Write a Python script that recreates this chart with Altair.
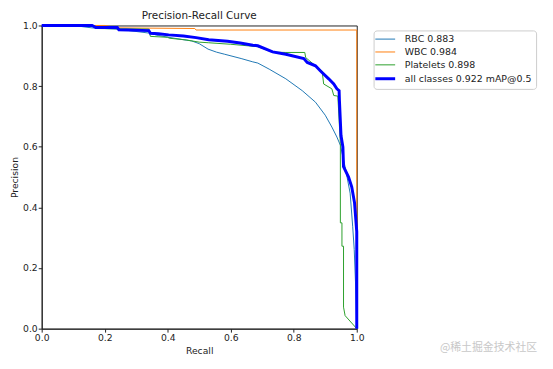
import altair as alt
import pandas as pd

series_names = ["RBC 0.883", "WBC 0.984", "Platelets 0.898", "all classes 0.922 mAP@0.5"]
series_colors = ["#1f77b4", "#ff7f0e", "#2ca02c", "#0000ff"]
series_widths = [1, 1, 1, 3]

rbc_recall = [0, 0.10, 0.16, 0.24, 0.34, 0.37, 0.42, 0.476, 0.50, 0.528, 0.555, 0.581, 0.633, 0.67, 0.686, 0.722, 0.775, 0.827, 0.869, 0.90, 0.921, 0.937, 0.948, 0.963, 0.979, 0.987, 0.992, 0.996, 1.0]
rbc_prec = [1.0, 1.0, 0.992, 0.988, 0.975, 0.967, 0.958, 0.949, 0.94, 0.922, 0.912, 0.905, 0.891, 0.88, 0.876, 0.856, 0.824, 0.785, 0.747, 0.704, 0.665, 0.632, 0.605, 0.534, 0.447, 0.338, 0.261, 0.154, 0.0]

wbc_recall = [0, 0.2, 0.24, 0.486, 0.49, 1.0, 1.0]
wbc_prec = [1.0, 1.0, 0.992, 0.99, 0.985, 0.985, 0.0]

plt_recall = [0, 0.16, 0.172, 0.34, 0.345, 0.40, 0.405, 0.46, 0.50, 0.53, 0.60, 0.686, 0.733, 0.775, 0.835, 0.838, 0.869, 0.89, 0.895, 0.921, 0.927, 0.94, 0.948, 0.948, 0.953, 0.953, 0.958, 0.958, 0.963, 1.0]
plt_prec = [1.0, 1.0, 0.99, 0.988, 0.964, 0.961, 0.958, 0.952, 0.945, 0.943, 0.938, 0.93, 0.912, 0.911, 0.911, 0.894, 0.867, 0.85, 0.807, 0.791, 0.769, 0.767, 0.61, 0.349, 0.349, 0.272, 0.272, 0.071, 0.043, 0.0]

all_recall = [0, 0.16, 0.172, 0.24, 0.245, 0.34, 0.345, 0.371, 0.403, 0.45, 0.49, 0.53, 0.59, 0.63, 0.67, 0.686, 0.733, 0.775, 0.832, 0.843, 0.869, 0.885, 0.911, 0.927, 0.937, 0.944, 0.945, 0.95, 0.956, 0.958, 0.974, 0.984, 0.993, 0.997, 1.0, 1.0]
all_prec = [1.0, 1.0, 0.993, 0.993, 0.986, 0.983, 0.974, 0.973, 0.969, 0.965, 0.96, 0.953, 0.948, 0.942, 0.935, 0.933, 0.913, 0.905, 0.891, 0.878, 0.867, 0.85, 0.824, 0.807, 0.791, 0.785, 0.752, 0.637, 0.599, 0.534, 0.50, 0.468, 0.415, 0.36, 0.32, 0.0]

tick_values = [0.0, 0.2, 0.4, 0.6, 0.8, 1.0]
watermark = "@稀土掘金技术社区"

rows = []
for name, lw, rs, ps in zip(series_names, series_widths,
                            [rbc_recall, wbc_recall, plt_recall, all_recall],
                            [rbc_prec, wbc_prec, plt_prec, all_prec]):
    for i, (r, p) in enumerate(zip(rs, ps)):
        rows.append({"series": name, "lw": lw, "i": i, "recall": r, "precision": p})
df = pd.DataFrame(rows)

thick_expr = "datum.value == '" + series_names[3] + "' ? 3 : 1"

lines = alt.Chart(df).mark_line(clip=False).encode(
    x=alt.X("recall:Q", scale=alt.Scale(domain=[0, 1], nice=False),
            axis=alt.Axis(title="Recall", values=tick_values, format=".1f")),
    y=alt.Y("precision:Q", scale=alt.Scale(domain=[0, 1], nice=False),
            axis=alt.Axis(title="Precision", values=tick_values, format=".1f", titlePadding=3)),
    color=alt.Color("series:N", title=None,
                    scale=alt.Scale(domain=series_names, range=series_colors),
                    legend=alt.Legend(
                        orient="none", legendX=335, legendY=5,
                        symbolType="stroke", symbolSize=400, labelFontSize=9.5,
                        labelFont="DejaVu Sans", labelColor="#222222",
                        strokeColor="#cccccc", fillColor="white", padding=4,
                        cornerRadius=3, rowPadding=2, labelOffset=15, symbolOffset=3,
                        symbolStrokeWidth=alt.ExprRef(expr=thick_expr),
                    )),
    strokeWidth=alt.StrokeWidth("lw:Q", scale=None, legend=None),
    detail="series:N",
    order="i:Q",
)

wm = alt.Chart(pd.DataFrame({"t": [watermark]})).mark_text(
    font="Noto Sans CJK SC", fontSize=11, color="#c8c8c8", align="center", baseline="middle"
).encode(text="t:N", x=alt.value(451), y=alt.value(326))

chart = alt.layer(lines, wm).properties(
    width=318, height=306,
    title=alt.TitleParams("Precision-Recall Curve", fontSize=10.5, fontWeight="normal",
                          font="DejaVu Sans", anchor="middle", offset=-2, color="#222222"),
    autosize=alt.AutoSizeParams(type="none"),
    padding={"left": 34, "top": 16, "right": 190, "bottom": 30},
).configure(font="DejaVu Sans").configure_axis(
    grid=False, domainColor="#222222", tickColor="#222222", tickSize=3.5,
    labelFontSize=9.3, titleFontSize=9.3, labelColor="#222222", titleColor="#222222",
    titleFontWeight="normal", labelFlush=False, labelPadding=1,
).configure_view(stroke="#222222", strokeWidth=1)

chart.save("out.html", embed_options={"renderer": "svg", "actions": False})
